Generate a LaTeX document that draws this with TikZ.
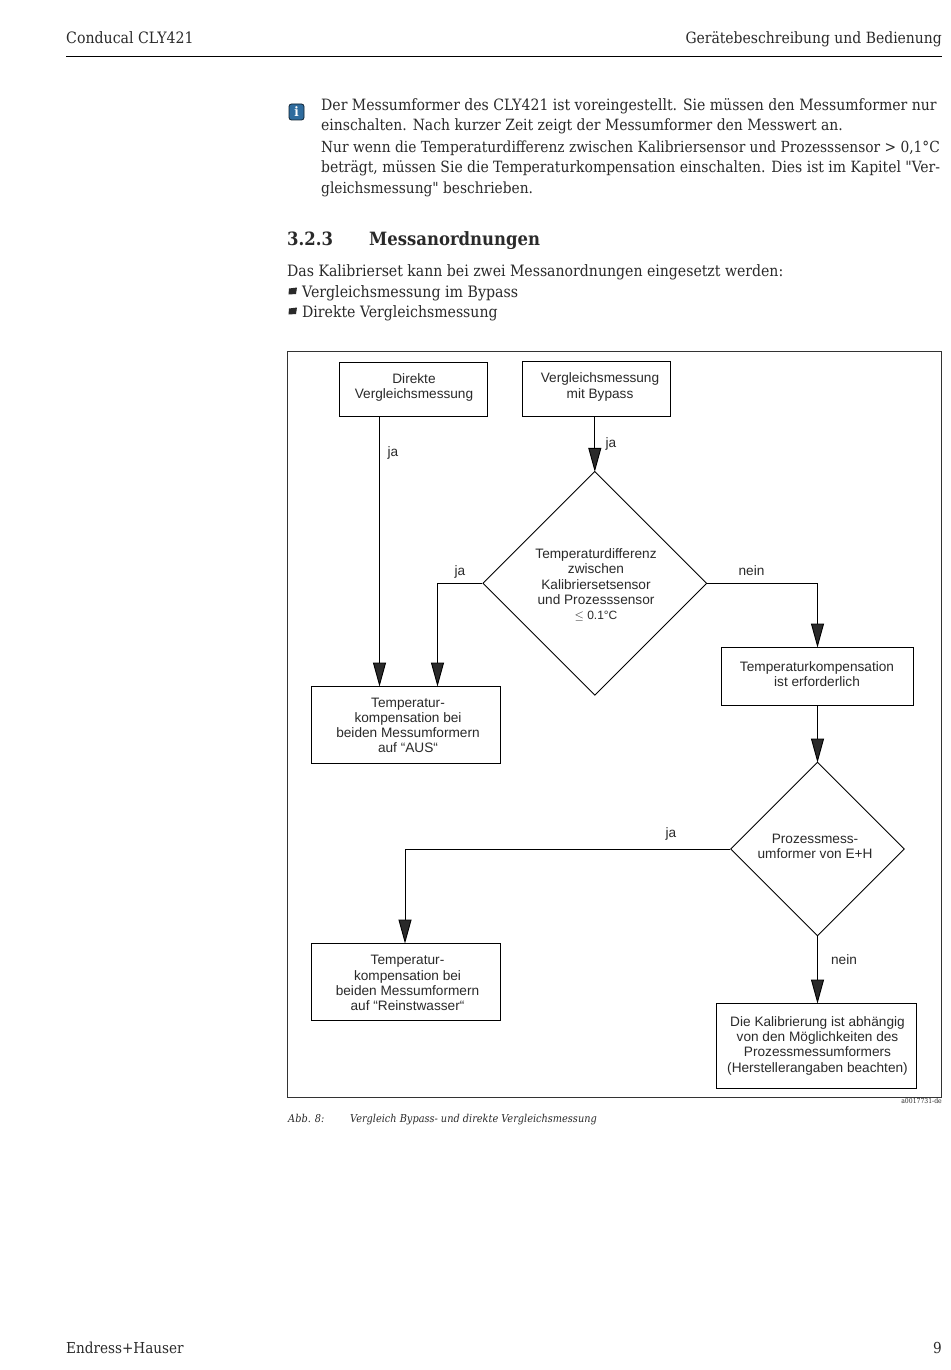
\documentclass[tikz,border=0pt]{standalone}
\usepackage{fontspec}
\usepackage{amssymb}
\setmainfont{DejaVu Serif Condensed}
\newfontfamily\qfont{DejaVu Serif Condensed}
\setsansfont{Liberation Sans}
\usetikzlibrary{arrows.meta,shapes.geometric}
\definecolor{ink}{HTML}{2A2A2A}
\definecolor{infoblue}{HTML}{2F6C9E}
\tikzset{
  bodytext/.style={anchor=base west,inner sep=0pt,text=ink,font=\rmfamily\fontsize{#1}{17}\selectfont},
  bodytext/.default=15.6,
  headtext/.style={anchor=base,inner sep=0pt,text=ink,font=\rmfamily\fontsize{#1}{17}\selectfont},
  boxnode/.style={draw=black,line width=0.9pt,rectangle,inner sep=0pt},
  dia/.style={draw=black,line width=0.9pt,diamond,aspect=1,inner sep=0pt},
  flowtext/.style={inner sep=0pt,align=center,text=ink,font=\sffamily\fontsize{13.65}{15.2}\selectfont},
  lab/.style={inner sep=0pt,text=ink,font=\sffamily\fontsize{13.65}{15.2}\selectfont},
  arr/.style={draw=black,line width=0.9pt,shorten >=-1pt,-{Triangle[length=24pt,width=13pt,fill=ink]}},
  capt/.style={anchor=base west,inner sep=0pt,text=ink,font=\rmfamily\itshape\fontsize{10.85}{13}\selectfont},
}
\begin{document}
\begin{tikzpicture}[x=1pt,y=-1pt]
\useasboundingbox (0,0) rectangle (950,1370);
\fill[white] (0,0) rectangle (950,1370);
% header
\node[headtext=15.7,anchor=base west] (h1) at (66,44) {Conducal CLY421};
\node[headtext=15.5,anchor=base east] (h2) at (942,44) {Gerätebeschreibung und Bedienung};
\draw[black,line width=1.1pt] (66,56.5) -- (942,56.5);
% info icon
\fill[infoblue,draw=black!70!infoblue,line width=0.8pt,rounded corners=2.5pt] (289,104) rectangle (304,120);
\node[inner sep=0pt,text=white,font=\rmfamily\bfseries\fontsize{13}{13}\selectfont] (ii) at (296.5,112) {i};
% note
\node[bodytext=15.6] (n1) at (321,111) {Der Messumformer des CLY421 ist voreingestellt. Sie müssen den Messumformer nur};
\node[bodytext=15.5] (n2) at (321,131) {einschalten. Nach kurzer Zeit zeigt der Messumformer den Messwert an.};
\node[bodytext=15.3] (n3) at (321,152) {Nur wenn die Temperaturdifferenz zwischen Kalibriersensor und Prozesssensor > 0,1°C};
\node[bodytext=15.5] (n4) at (321,172) {beträgt, müssen Sie die Temperaturkompensation einschalten. Dies ist im Kapitel {\qfont"}Ver-};
\node[bodytext=15.3] (n5) at (321,193) {gleichsmessung{\qfont"} beschrieben.};
% heading
\node[bodytext,font=\rmfamily\bfseries\fontsize{18.3}{20}\selectfont] (s1) at (287,245.5) {3.2.3};
\node[bodytext,font=\rmfamily\bfseries\fontsize{18.3}{20}\selectfont] (s2) at (369,245.5) {Messanordnungen};
\node[bodytext=15.65] (p1) at (287,276) {Das Kalibrierset kann bei zwei Messanordnungen eingesetzt werden:};
\fill[ink] (289,288.5) -- (297,287.5) -- (296,294) -- (288.5,294.5) -- cycle;
\node[bodytext=15.75] (p2) at (302,297) {Vergleichsmessung im Bypass};
\fill[ink] (289,308.5) -- (297,307.5) -- (296,314) -- (288.5,314.5) -- cycle;
\node[bodytext=15.65] (p3) at (302,317) {Direkte Vergleichsmessung};
% frame
\draw[black!80,line width=0.8pt] (287.5,351.5) rectangle (941.5,1097.5);
% boxes
\node[boxnode,minimum width=148pt,minimum height=54pt] (a) at (413.5,389) {};
\node[boxnode,minimum width=148pt,minimum height=55pt] (b) at (596.5,388.5) {};
\node[dia,minimum width=224pt,minimum height=224pt] (d1) at (594.8,583.3) {};
\node[boxnode,minimum width=189pt,minimum height=77pt] (c) at (406,724.5) {};
\node[boxnode,minimum width=192pt,minimum height=58pt] (e) at (817.5,676) {};
\node[dia,minimum width=174pt,minimum height=174pt] (d2) at (817.5,849) {};
\node[boxnode,minimum width=189pt,minimum height=77pt] (f) at (406,981.5) {};
\node[boxnode,minimum width=200pt,minimum height=85pt] (g) at (816.5,1045.5) {};
% box texts
\node[flowtext] (ta) at (414,387.5) {Direkte\\Vergleichsmessung};
\node[flowtext] (tb) at (600,387) {Vergleichsmessung\\mit Bypass};
\node[flowtext] (td1) at (596,585) {Temperaturdifferenz\\zwischen\\Kalibriersetsensor\\und Prozesssensor\\{\fontsize{12}{15.2}\selectfont$\leq$ 0.1°C}};
\node[flowtext] (tc) at (408,725.3) {Temperatur-\\kompensation bei\\beiden Messumformern\\auf “AUS“};
\node[flowtext] (te) at (817,674.3) {Temperaturkompensation\\ist erforderlich};
\node[flowtext] (td2) at (815,846.3) {Prozessmess-\\umformer von E+H};
\node[flowtext] (tf) at (407.5,983) {Temperatur-\\kompensation bei\\beiden Messumformern\\auf “Reinstwasser“};
\node[flowtext] (tg) at (817.5,1045.7) {Die Kalibrierung ist abhängig\\von den Möglichkeiten des\\Prozessmessumformers\\(Herstellerangaben beachten)};
% connectors
\draw[arr] ([xshift=-34pt]a.south) -- ([xshift=-26.5pt]c.north);
\draw[arr] ([xshift=-1.7pt]b.south) -- (d1.north);
\draw[arr] (d1.west) -| ([xshift=31.5pt]c.north);
\draw[arr] (d1.east) -| (e.north);
\draw[arr] (e.south) -- (d2.north);
\draw[arr] (d2.west) -| ([xshift=-1pt]f.north);
\draw[arr] (d2.south) -- ([xshift=1pt]g.north);
% labels
\node[lab] (l1) at (393,453.3) {ja};
\node[lab] (l2) at (611,444.3) {ja};
\node[lab] (l3) at (460,572) {ja};
\node[lab] (l4) at (751.5,570.7) {nein};
\node[lab] (l5) at (671,834) {ja};
\node[lab] (l6) at (844,960) {nein};
% caption
\node[inner sep=0pt,anchor=base east,text=ink,font=\rmfamily\fontsize{6.8}{7}\selectfont] (src) at (942,1103) {a0017731-de};
\node[capt] (c1) at (288,1122) {Abb. 8:};
\node[capt] (c2) at (350,1122) {Vergleich Bypass- und direkte Vergleichsmessung};
% footer
\node[headtext=15.1,anchor=base west] (f1) at (66,1353) {Endress+Hauser};
\node[headtext=15.1,anchor=base east] (f2) at (942,1353) {9};
\end{tikzpicture}
\end{document}
